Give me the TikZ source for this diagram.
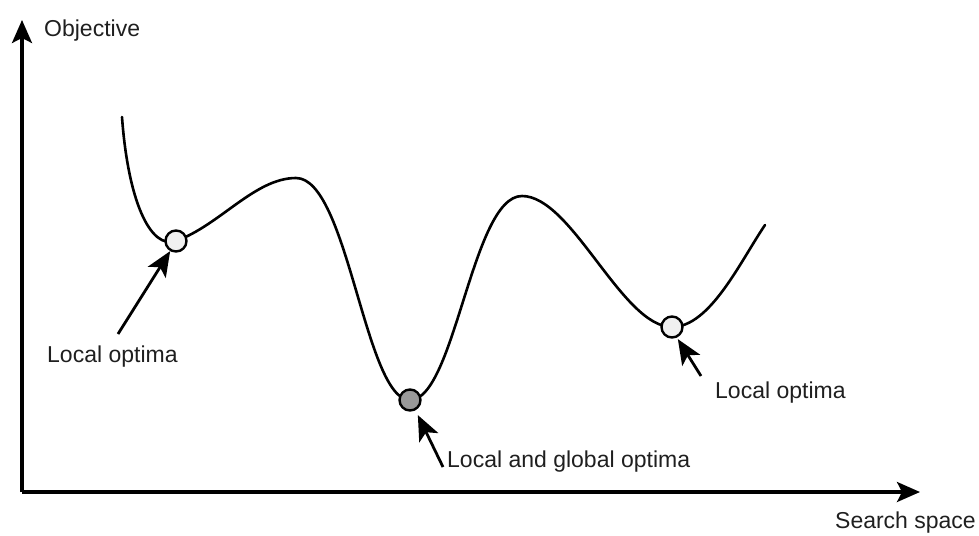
\documentclass[tikz,border=0pt]{standalone}
\usepackage{fontspec}
\setmainfont{Liberation Sans}
\usetikzlibrary{arrows.meta}
\begin{document}
\begin{tikzpicture}[x=1pt,y=-1pt,
  axis/.style={line width=3.2pt,-{Stealth[length=23pt,width=20pt,inset=5pt]}},
  pointer/.style={line width=2.8pt,-{Stealth[length=25pt,width=21pt,inset=6pt]}},
  curve/.style={line width=2.6pt,line cap=round},
  optlight/.style={circle,draw,line width=2.4pt,fill=gray!12,minimum size=21pt,inner sep=0pt},
  optdark/.style={circle,draw,line width=2.4pt,fill=gray!80,minimum size=21pt,inner sep=0pt},
  lbl/.style={font=\fontsize{23}{27}\selectfont,text=black!88,inner sep=0pt}]
\useasboundingbox (0,0) rectangle (979,535);
% axes
\coordinate (origin) at (22,492);
\coordinate (ytop) at (22,20);
\coordinate (xend) at (920,492);
\draw[axis] (origin) -- (ytop);
\draw[axis] (origin) -- (xend);
\node[lbl,anchor=west] (ylabel) at (44,31) {Objective};
\node[lbl,anchor=east] (xlabel) at (976,523) {Search space};
% objective function
\draw[curve] (122,117) .. controls (128,200) and (150,250) .. (176,241)
  .. controls (220,225) and (255,178) .. (296,178)
  .. controls (348,178) and (365,400) .. (410,400)
  .. controls (455,400) and (472,196) .. (522,196)
  .. controls (572,196) and (622,327) .. (672,327)
  .. controls (710,327) and (740,262) .. (765,225);
% optima
\node[optlight] (opt1) at (176,241) {};
\node[optdark] (opt2) at (410,400) {};
\node[optlight] (opt3) at (672,327) {};
% labels and pointers
\node[lbl,anchor=west] (lab1) at (47,357) {Local optima};
\node[lbl,anchor=west] (lab2) at (447,462) {Local and global optima};
\node[lbl,anchor=west] (lab3) at (715,393) {Local optima};
\coordinate (tail1) at (118,334);
\coordinate (tail2) at (443,467);
\coordinate (tail3) at (701,376);
\draw[pointer] (tail1) -- (opt1.240);
\draw[pointer] (tail2) -- ([shift={(2pt,-5pt)}]opt2.300);
\draw[pointer] (tail3) -- ([shift={(0pt,-2pt)}]opt3.300);
\end{tikzpicture}
\end{document}
